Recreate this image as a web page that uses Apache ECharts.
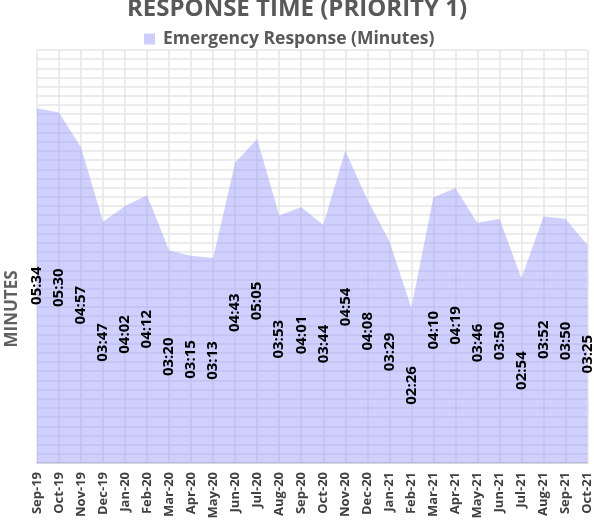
<!DOCTYPE html>
<html>
<head>
<meta charset="utf-8">
<script src="https://cdn.jsdelivr.net/npm/echarts@6/dist/echarts.min.js"></script>
<style>
  html, body { margin: 0; padding: 0; background: #fff; }
  #main { width: 594px; height: 523px; }
</style>
</head>
<body>
<div id="main"></div>
<script>
const months = ['Sep-19', 'Oct-19', 'Nov-19', 'Dec-19', 'Jan-20', 'Feb-20', 'Mar-20', 'Apr-20', 'May-20',
  'Jun-20', 'Jul-20', 'Aug-20', 'Sep-20', 'Oct-20', 'Nov-20', 'Dec-20', 'Jan-21', 'Feb-21', 'Mar-21',
  'Apr-21', 'May-21', 'Jun-21', 'Jul-21', 'Aug-21', 'Sep-21', 'Oct-21'];
const responseTimes = ['05:34', '05:30', '04:57', '03:47', '04:02', '04:12', '03:20', '03:15', '03:13',
  '04:43', '05:05', '03:53', '04:01', '03:44', '04:54', '04:08', '03:29', '02:26', '04:10',
  '04:19', '03:46', '03:50', '02:54', '03:52', '03:50', '03:25'];
// axis in seconds (0 .. 0.0045 day, step 0.0001 day)
const yMax = 388.8;
const yStep = 8.64;

function toSeconds(t) {
  let p = t.split(':');
  return Number(p[0]) * 60 + Number(p[1]);
}
const seconds = responseTimes.map(toSeconds);

let myChart = echarts.init(document.getElementById('main'));

let option = {
  animation: false,
  title: {
    text: 'RESPONSE TIME (PRIORITY 1)',
    left: 'center',
    top: -3,
    padding: 0,
    textStyle: {
      fontFamily: 'Open Sans',
      fontWeight: 'bold',
      fontSize: 24,
      color: '#595959',
    },
  },
  legend: {
    data: ['Emergency Response (Minutes)'],
    top: 25,
    left: 139,
    itemWidth: 11,
    itemHeight: 11,
    icon: 'rect',
    textStyle: {
      fontFamily: 'Open Sans',
      fontWeight: 'bold',
      fontSize: 17.5,
      color: '#595959',
      padding: [0, 0, 0, 3],
    },
  },
  graphic: [
    {
      type: 'text',
      x: 4,
      y: 309,
      rotation: Math.PI / 2,
      style: {
        text: 'MINUTES',
        fontFamily: 'Open Sans',
        fontWeight: 'bold',
        fontSize: 17,
        fill: '#606060',
        align: 'center',
        verticalAlign: 'top',
      },
    },
  ],
  grid: {
    left: 37,
    right: 3,
    top: 50,
    bottom: 60,
  },
  xAxis: {
    type: 'category',
    data: months,
    boundaryGap: false,
    axisLine: { show: true, lineStyle: { color: '#d0d0d0', width: 1.5 } },
    axisTick: { show: false },
    axisLabel: {
      rotate: 90,
      margin: 9,
      interval: 0,
      fontFamily: 'Open Sans',
      fontWeight: 'bold',
      fontSize: 13,
      color: '#404040',
    },
    splitLine: { show: true, interval: 0, lineStyle: { color: '#e6e6e6', width: 1.5 } },
  },
  yAxis: {
    type: 'value',
    min: 0,
    max: yMax,
    interval: yStep,
    axisLabel: { show: false },
    axisLine: { show: false },
    axisTick: { show: false },
    splitLine: { show: true, lineStyle: { color: '#e6e6e6', width: 1.5 } },
  },
  series: [
    {
      name: 'Emergency Response (Minutes)',
      type: 'line',
      data: seconds,
      symbol: 'none',
      lineStyle: { width: 0 },
      itemStyle: { color: '#ccccff' },
      areaStyle: { color: 'rgba(150,150,255,0.45)', opacity: 1 },
    },
    {
      name: 'labels',
      type: 'bar',
      data: seconds,
      silent: true,
      barWidth: 10,
      itemStyle: { color: 'transparent' },
      label: {
        show: true,
        position: 'inside',
        rotate: 90,
        fontFamily: 'Open Sans',
        fontWeight: 'bold',
        fontSize: 15,
        color: '#000',
        formatter: (p) => responseTimes[p.dataIndex],
      },
      z: 5,
    },
  ],
};

option && myChart.setOption(option);
</script>
</body>
</html>
